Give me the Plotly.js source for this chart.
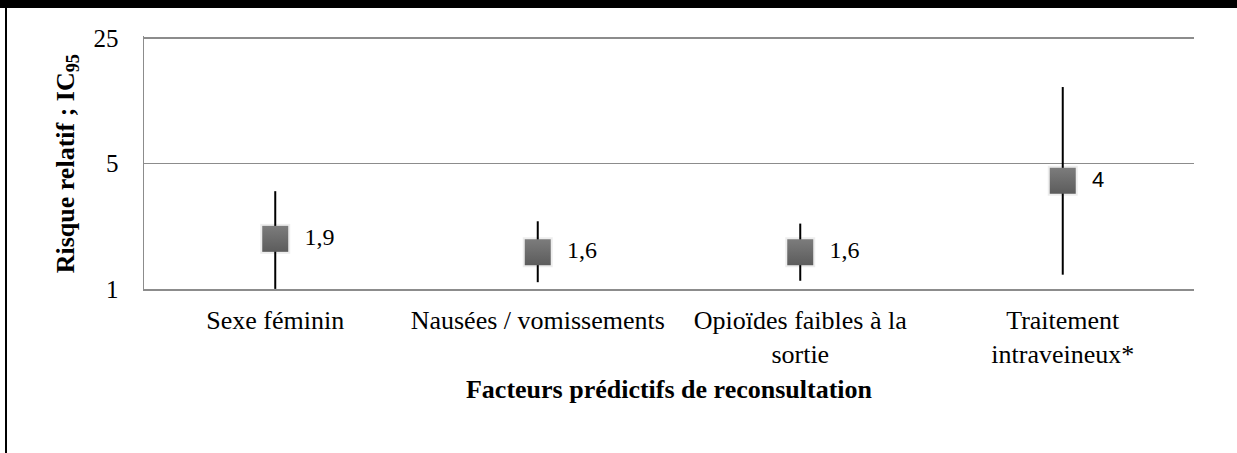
<!DOCTYPE html>
<html>
<head>
<meta charset="utf-8">
<script src="https://cdn.plot.ly/plotly-3.0.1.min.js"></script>
<style>
  html, body { margin: 0; padding: 0; background: #fff; }
  #wrap { position: relative; width: 1237px; height: 453px; overflow: hidden; }
  #chart { position: absolute; left: 0; top: 0; width: 1237px; height: 453px; }
  #topbar { position: absolute; left: 0; top: 0; width: 1237px; height: 8px; background: #000; }
  #leftbar { position: absolute; left: 5px; top: 0; width: 2px; height: 453px; background: #000; }
</style>
</head>
<body>
<div id="wrap">
  <div id="chart"></div>
  <div id="topbar"></div>
  <div id="leftbar"></div>
</div>
<script>
const categories = ["Sexe féminin", "Nausées / vomissements", "Opioïdes faibles à la<br>sortie", "Traitement<br>intraveineux*"];
const riskValues = [1.9, 1.6, 1.6, 4];
const ciLower = [1.0, 1.09, 1.11, 1.2];
const ciUpper = [3.5, 2.38, 2.31, 13.3];
const valueLabels = ["1,9", "1,6", "1,6", "4"];
const yTickVals = [1, 5, 25];
const yTickText = ["1", "5", "25"];
const xTitle = "Facteurs prédictifs de reconsultation";
const yTitle = "Risque relatif ; IC<sub>95</sub>";

const errPlus = riskValues.map((v, i) => ciUpper[i] - v);
const errMinus = riskValues.map((v, i) => v - ciLower[i]);

// last label is drawn in a sans face in the reference
const labelText = valueLabels.map((t, i) => i === valueLabels.length - 1
  ? '\u2002<span style="font-family:Liberation Sans;font-size:22px">' + t + '</span>'
  : '\u2002' + t);

const shadow = {
  type: 'scatter', mode: 'markers', x: categories, y: riskValues,
  marker: { symbol: 'square', size: 30, color: 'rgba(0,0,0,0.07)', line: { width: 0 } },
  hoverinfo: 'skip', showlegend: false
};

const main = {
  type: 'scatter', mode: 'markers+text', x: categories, y: riskValues,
  text: labelText,
  textposition: 'middle right',
  textfont: { family: 'Liberation Serif', size: 24, color: '#000' },
  marker: { symbol: 'square', size: 26, color: '#7c7c7c', gradient: { type: 'vertical', color: '#5c5c5c' }, line: { width: 0 } },
  error_y: { type: 'data', symmetric: false, array: errPlus, arrayminus: errMinus, color: '#000', thickness: 2, width: 0 },
  showlegend: false, cliponaxis: false
};

const layout = {
  width: 1237, height: 453,
  margin: { l: 143.5, r: 43, t: 36, b: 164 },
  paper_bgcolor: '#fff', plot_bgcolor: '#fff',
  font: { family: 'Liberation Serif, Times New Roman, serif', color: '#000' },
  showlegend: false,
  xaxis: {
    type: 'category', range: [-0.5, 3.5], showgrid: false, zeroline: false,
    showline: true, linecolor: '#8c8c8c', linewidth: 1.5,
    ticks: '', tickfont: { size: 26, family: 'Liberation Serif' },
    ticklabelstandoff: 7,
    title: { text: '<b>' + xTitle + '</b>', font: { size: 26, family: 'Liberation Serif' }, standoff: 12 }
  },
  yaxis: {
    type: 'log', range: [-0.0005, Math.log10(25) + 0.01],
    tickvals: yTickVals, ticktext: yTickText,
    showgrid: true, gridcolor: '#8c8c8c', gridwidth: 1.5,
    showline: true, linecolor: '#8c8c8c', linewidth: 1.5,
    zeroline: false, ticks: '',
    tickfont: { size: 25, family: 'Liberation Serif' },
    ticklabelstandoff: 19
  },
  annotations: [{
    xref: 'paper', yref: 'paper', x: -0.0738, y: 0.495,
    xanchor: 'center', yanchor: 'middle', textangle: -90, showarrow: false,
    text: '<b>' + yTitle + '</b>', font: { size: 26, family: 'Liberation Serif', color: '#000' }
  }]
};

Plotly.newPlot('chart', [shadow, main], layout, { displayModeBar: false, staticPlot: true });
</script>
</body>
</html>
